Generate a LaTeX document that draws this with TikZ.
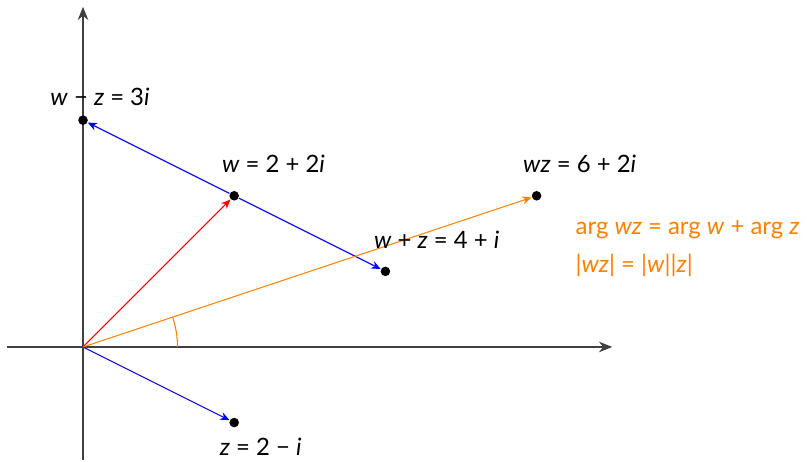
\documentclass[tikz,border=0pt]{standalone}
\usepackage{fontspec}
\setmainfont{Lato}
\usepackage{tikz}
\usetikzlibrary{positioning,arrows.meta}

\begin{document}
\begin{tikzpicture}[
  >=Stealth, font=\fontsize{9}{11}\selectfont,
  axis/.style={->, black!75, line width=0.5pt, >={Stealth[length=5pt,width=4pt]}},
  pt/.style={circle, fill=black, inner sep=0pt, minimum size=3.6pt},
  vec/.style={->, line width=0.4pt, >={Stealth[length=3.5pt,width=3pt]}},
  lbl/.style={anchor=base, inner sep=0pt}
]
  \useasboundingbox (-1.098,-1.521) rectangle (9.577,4.590);
  % axes
  \draw[axis] (-1,0) -- (7,0);
  \draw[axis] (0,-1.5) -- (0,4.5);
  % points
  \coordinate (o) at (0,0);
  \node[pt] (z) at (2,-1) {};
  \node[pt] (w) at (2,2) {};
  \node[pt] (wmz) at (0,3) {};
  \node[pt] (wpz) at (4,1) {};
  \node[pt] (wz) at (6,2) {};
  % vectors
  \draw[vec, red] (o) -- (w);
  \draw[vec, blue] (o) -- (z);
  \draw[vec, blue] (w) -- (wmz);
  \draw[vec, blue] (w) -- (wpz);
  \draw[vec, orange] (o) -- (wz);
  \draw[orange] (1.25,0) arc (0:18.43:1.25);
  % labels
  \node[lbl] (wmzlab) at (0.225,3.20) {\textit{w} − \textit{z} = 3\textit{i}};
  \node[lbl] (wlab) at (2.52,2.31) {\textit{w} = 2 + 2\textit{i}};
  \node[lbl] (wzlab) at (6.57,2.31) {\textit{wz} = 6 + 2\textit{i}};
  \node[lbl] (wpzlab) at (4.68,1.30) {\textit{w} + \textit{z} = 4 + \textit{i}};
  \node[lbl] (zlab) at (2.35,-1.44) {\textit{z} = 2 − \textit{i}};
  \node[lbl, anchor=base west, text=orange] (arglab) at (6.51,1.49) {arg \textit{wz} = arg \textit{w} + arg \textit{z}};
  \node[lbl, anchor=base west, text=orange] (modlab) at (6.51,0.99) {|\textit{wz}| = |\textit{w}||\textit{z}|};
\end{tikzpicture}
\end{document}
